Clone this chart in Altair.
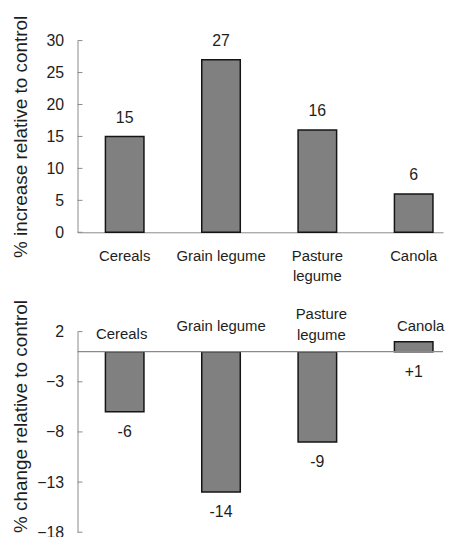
import altair as alt
import pandas as pd

categories = ["Cereals", "Grain legume", "Pasture legume", "Canola"]
increase_values = [15, 27, 16, 6]
increase_labels = ["15", "27", "16", "6"]
change_values = [-6, -14, -9, 1]
change_labels = ["-6", "-14", "-9", "+1"]
top_ticks = [0, 5, 10, 15, 20, 25, 30]
bottom_ticks = [2, -3, -8, -13, -18]

FONT = "Liberation Sans"
GRAY = "#8a8a8a"
BAR = "#808080"
INK = "#1e1e1e"

top_df = pd.DataFrame({"cat": categories, "value": increase_values, "label": increase_labels})
bot_df = pd.DataFrame({"cat": categories, "value": change_values, "label": change_labels})

xscale = alt.Scale(domain=categories, paddingInner=0.6, paddingOuter=0.197, align=0.735)
top_title = "% increase  relative to control"
bot_title = "% change relative to control"

def yaxis(values, title_y=None):
    kw = dict(values=values, labelOverlap=False)
    if title_y is not None:
        kw["titleY"] = title_y
    return alt.Axis(**kw)

top_y_scale = alt.Scale(domain=[0, 30], nice=False)
bot_y_scale = alt.Scale(domain=[-18, 2], nice=False)

# ---------- top panel ----------
top_base = alt.Chart(top_df)
top_bars = top_base.mark_bar(color=BAR, stroke="#151515", strokeWidth=1.5).encode(
    x=alt.X("cat:N", sort=categories, scale=xscale, title=None,
            axis=alt.Axis(labelFontSize=15, labelAngle=0, labelPadding=16, ticks=False,
                          labelLineHeight=21,
                          labelExpr="datum.label == 'Pasture legume' ? ['Pasture', 'legume'] : datum.label")),
    y=alt.Y("value:Q", scale=top_y_scale, title=top_title, axis=yaxis(top_ticks)),
)
top_text = top_base.mark_text(dy=-19, font=FONT, fontSize=16, color=INK, baseline="middle").encode(
    x=alt.X("cat:N", sort=categories, scale=xscale),
    y=alt.Y("value:Q", title=top_title, axis=yaxis(top_ticks)),
    text="label:N",
)
top_tick_marks = alt.Chart(pd.DataFrame({"t": top_ticks})).mark_rule(color=GRAY).encode(
    y=alt.Y("t:Q", title=top_title, axis=yaxis(top_ticks)), x=alt.value(0), x2=alt.value(5)
)
top = alt.layer(top_bars, top_text, top_tick_marks).properties(width=368, height=193)

# ---------- bottom panel ----------
bot_base = alt.Chart(bot_df)
bot_axis = yaxis(bottom_ticks, title_y=85)
bot_bars = bot_base.mark_bar(color=BAR, stroke="#151515", strokeWidth=1.5).encode(
    x=alt.X("cat:N", sort=categories, scale=xscale, axis=None),
    y=alt.Y("value:Q", scale=bot_y_scale, title=bot_title, axis=bot_axis),
)
zero_line = alt.Chart(pd.DataFrame({"z": [0]})).mark_rule(color=GRAY, strokeWidth=1.2).encode(
    y=alt.Y("z:Q", title=bot_title, axis=bot_axis)
)
bot_text = bot_base.transform_calculate(end="min(datum.value, 0)").mark_text(
    dy=20, font=FONT, fontSize=16, color=INK, baseline="middle"
).encode(
    x=alt.X("cat:N", sort=categories, scale=xscale),
    y=alt.Y("end:Q", title=bot_title, axis=bot_axis),
    text="label:N",
)
label_style = {
    "Cereals": dict(dy=-18, dx=-3),
    "Grain legume": dict(dy=-26, dx=0),
    "Pasture legume": dict(dy=-38, dx=4, lineBreak=" ", lineHeight=21),
    "Canola": dict(dy=-26, dx=7),
}
cat_layers = []
for c in categories:
    cat_layers.append(
        bot_base.transform_filter(alt.datum.cat == c).transform_calculate(z="0").mark_text(
            font=FONT, fontSize=15, color=INK, baseline="middle", **label_style[c]
        ).encode(
            x=alt.X("cat:N", sort=categories, scale=xscale),
            y=alt.Y("z:Q", title=bot_title, axis=bot_axis),
            text="cat:N",
        )
    )
bot_tick_marks = alt.Chart(pd.DataFrame({"t": bottom_ticks})).mark_rule(color=GRAY).encode(
    y=alt.Y("t:Q", title=bot_title, axis=bot_axis), x=alt.value(0), x2=alt.value(5)
)
bottom = alt.layer(bot_bars, zero_line, bot_text, bot_tick_marks, *cat_layers).properties(
    width=368, height=202
)

chart = alt.vconcat(top, bottom, spacing=15).properties(
    padding={"left": 3, "top": 2, "right": 0, "bottom": 0}
).configure(
    background="white", view=alt.ViewConfig(stroke=None)
).configure_axis(
    labelFont=FONT, labelColor=INK, domainColor=GRAY, grid=False, labelOverlap=False,
    titleFont=FONT, titleFontWeight="normal", titleColor=INK
).configure_axisY(
    ticks=False, labelFontSize=16, labelPadding=14, titleFontSize=19,
    titlePadding=17, minExtent=30, maxExtent=30
)

chart.save("out.html", embed_options={"renderer": "svg", "actions": False})
